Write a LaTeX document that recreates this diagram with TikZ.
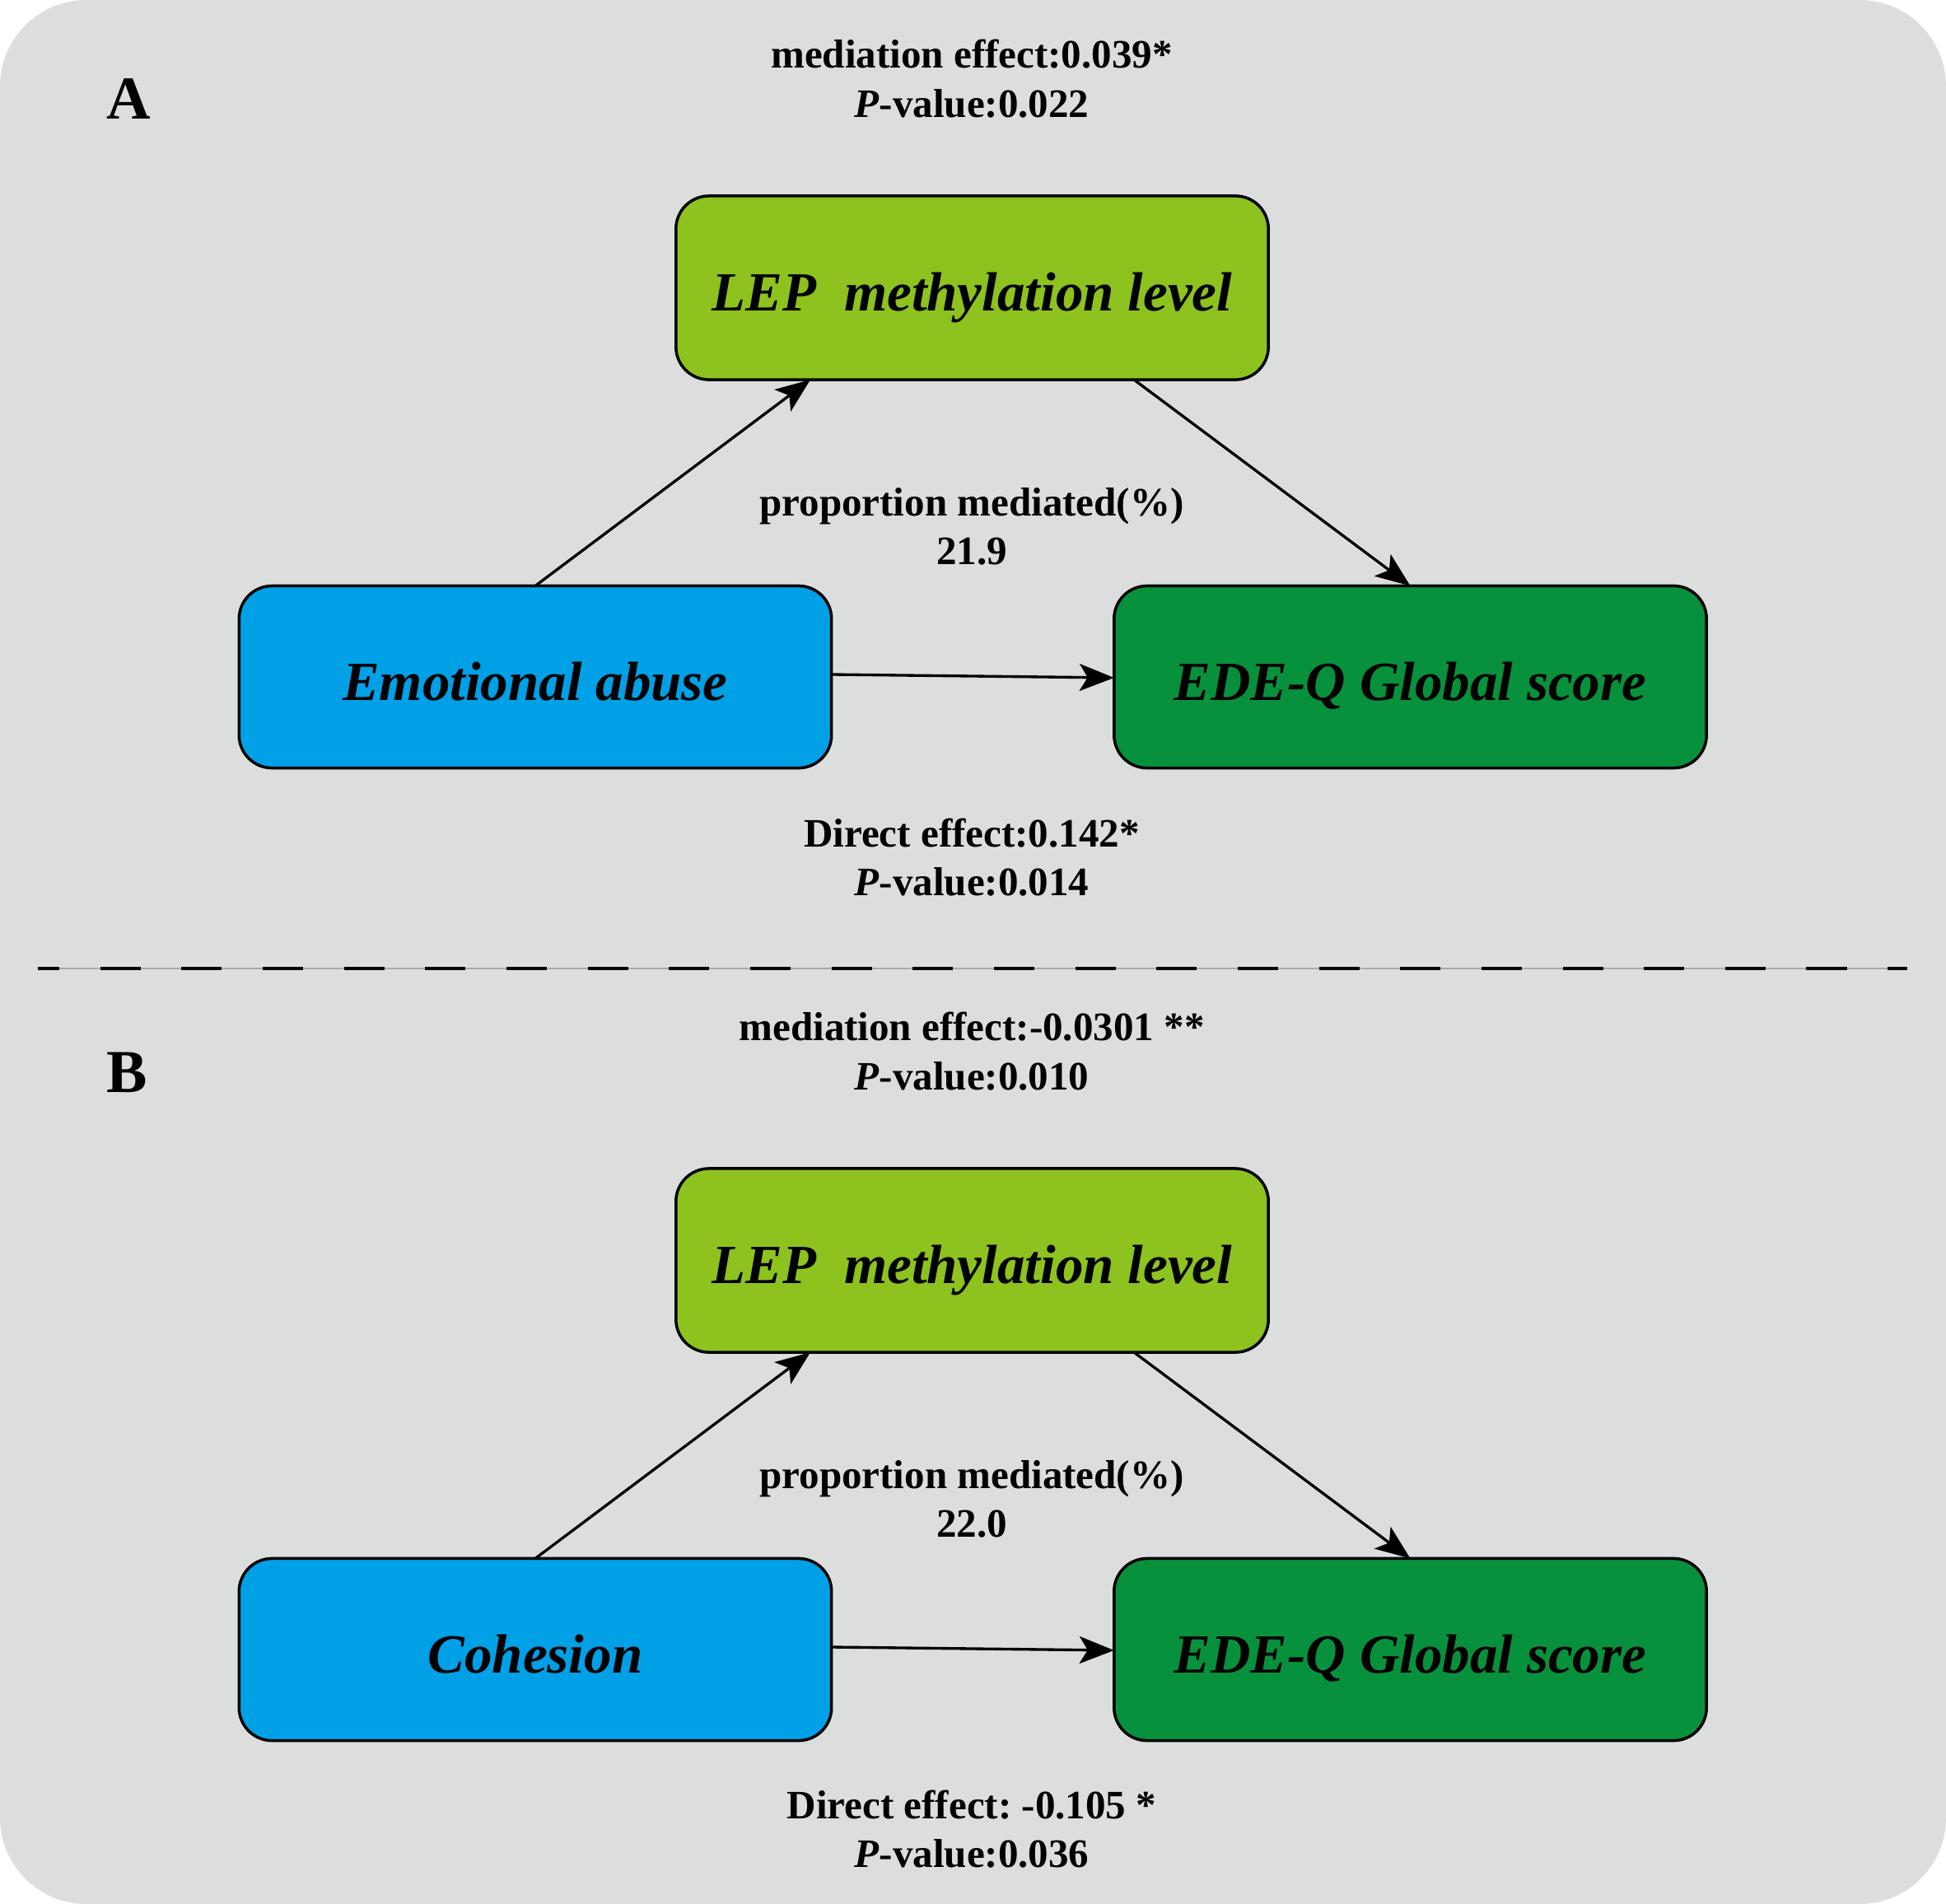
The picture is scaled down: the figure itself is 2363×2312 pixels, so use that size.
\documentclass[tikz,border=0pt]{standalone}
\usepackage{fontspec}
\setmainfont{Liberation Serif}
\usetikzlibrary{arrows.meta,calc}
\definecolor{bggray}{RGB}{220,221,221}
\definecolor{limegreen}{RGB}{141,194,31}
\definecolor{skyblue}{RGB}{0,160,230}
\definecolor{darkgreen}{RGB}{8,145,60}
\definecolor{thingray}{RGB}{170,170,170}
\frenchspacing
\begin{document}
\begin{tikzpicture}[x=0.01cm,y=-0.01cm,
  box/.style={draw=black, line width=1pt, rounded corners=0.4cm, minimum width=7.19cm, minimum height=2.21cm, inner sep=0pt, outer sep=0pt},
  boxtext/.style={anchor=base, inner sep=0pt, font=\fontsize{19.06}{22}\selectfont\bfseries\itshape},
  lbl/.style={anchor=base, inner sep=0pt, font=\fontsize{13.94}{16}\selectfont\bfseries},
  panellbl/.style={anchor=base, inner sep=0pt, font=\fontsize{21.05}{24}\selectfont\bfseries},
  conn/.style={line width=0.95pt, -{Stealth[length=0.42cm, width=0.33cm, inset=0.1cm]}},
]
\useasboundingbox (0,0) rectangle (2363,2312);
\fill[white] (0,0) rectangle (2363,2312);
\fill[bggray, rounded corners=1.05cm] (0,0) rectangle (2363,2312);

% divider
\coordinate (dl) at (46,1176);
\coordinate (dr) at (2316,1176);
\draw[thingray, line width=0.3pt] (dl) -- (dr);
\draw[black, line width=1.13pt, dash pattern=on 0.49cm off 0.496cm, dash phase=0.23cm] (dl) -- (dr);

% ---------------- Panel A ----------------
\node[panellbl] (labA) at (156,145) {A};
\node[lbl] (medA1) at (1180,83) {mediation effect:0.039*};
\node[lbl] (medA2) at (1180,143) {\textit{P}-value:0.022};
\node[lbl] (propA1) at (1180,626) {proportion mediated(\%)};
\node[lbl] (propA2) at (1180,685) {21.9};
\node[lbl] (dirA1) at (1180,1028) {Direct effect:0.142*};
\node[lbl] (dirA2) at (1180,1087) {\textit{P}-value:0.014};

\node[box, fill=limegreen, minimum height=2.23cm] (lepA) at (1180.5,349.5) {};
\node[boxtext] (lepAt) at (1180.5,377) {LEP\ \ methylation level};
\node[box, fill=skyblue] (eaA) at (650,822) {};
\node[boxtext] (eaAt) at (650,850) {Emotional abuse};
\node[box, fill=darkgreen] (edeA) at (1712.5,822) {};
\node[boxtext] (edeAt) at (1712.5,850) {EDE-Q Global score};

\coordinate (lepAin) at ($(lepA.south)+(-196.5,0)$);
\coordinate (lepAout) at ($(lepA.south)+(196.5,0)$);
\draw[conn] (eaA.north) -- (lepAin);
\draw[conn] (lepAout) -- (edeA.north);
\draw[conn] ($(eaA.east)+(0,-3)$) -- ($(edeA.west)+(0,1)$);

% ---------------- Panel B ----------------
\node[panellbl] (labB) at (154,1326) {B};
\node[lbl] (medB1) at (1180,1263) {mediation effect:-0.0301 **};
\node[lbl] (medB2) at (1180,1323) {\textit{P}-value:0.010};
\node[lbl] (propB1) at (1180,1807) {proportion mediated(\%)};
\node[lbl] (propB2) at (1180,1866) {22.0};
\node[lbl] (dirB1) at (1180,2208) {Direct effect: -0.105 *};
\node[lbl] (dirB2) at (1180,2267) {\textit{P}-value:0.036};

\node[box, fill=limegreen, minimum height=2.23cm] (lepB) at (1180.5,1530.5) {};
\node[boxtext] (lepBt) at (1180.5,1558) {LEP\ \ methylation level};
\node[box, fill=skyblue] (coB) at (650,2003) {};
\node[boxtext] (coBt) at (650,2031) {Cohesion};
\node[box, fill=darkgreen] (edeB) at (1712.5,2003) {};
\node[boxtext] (edeBt) at (1712.5,2031) {EDE-Q Global score};

\coordinate (lepBin) at ($(lepB.south)+(-196.5,0)$);
\coordinate (lepBout) at ($(lepB.south)+(196.5,0)$);
\draw[conn] (coB.north) -- (lepBin);
\draw[conn] (lepBout) -- (edeB.north);
\draw[conn] ($(coB.east)+(0,-3)$) -- ($(edeB.west)+(0,1)$);
\end{tikzpicture}
\end{document}
